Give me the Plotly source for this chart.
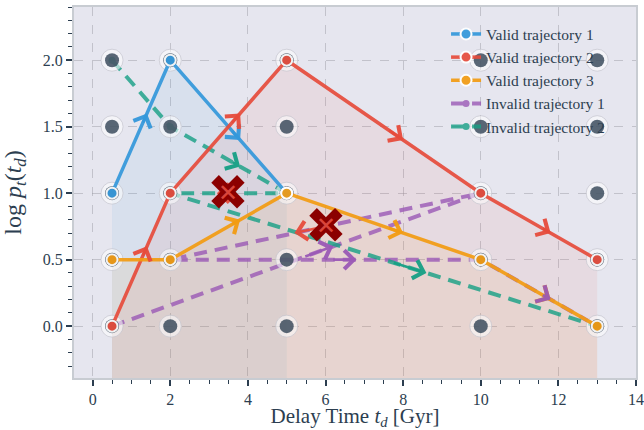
import itertools
import plotly.graph_objects as go

# ---------------- data ----------------
grid_x = [0.5, 2, 5, 10, 13]
grid_y = [0.0, 0.5, 1.0, 1.5, 2.0]

valid1_x = [0.5, 2, 5]
valid1_y = [1.0, 2.0, 1.0]
valid2_x = [0.5, 2, 5, 10, 13]
valid2_y = [0.0, 1.0, 2.0, 1.0, 0.5]
valid3_x = [0.5, 2, 5, 10, 13]
valid3_y = [0.5, 0.5, 1.0, 0.5, 0.0]
invalid1_x = [0.5, 10, 2, 10, 13]
invalid1_y = [0.0, 1.0, 0.5, 0.5, 0.0]
invalid2_x = [0.5, 2, 5, 2, 13]
invalid2_y = [2.0, 1.5, 1.0, 1.0, 0.0]

violation_x = [3.5, 6.0]
violation_y = [1.0, 0.75]

x_ticks = [0, 2, 4, 6, 8, 10, 12, 14]
y_ticks = [0.0, 0.5, 1.0, 1.5, 2.0]

# ---------------- style ----------------
X_RANGE = [-0.48, 14.0]
Y_RANGE = [-0.39, 2.4]
FONT = "Liberation Serif, Times New Roman, DejaVu Serif, serif"
TXT = "#2c3e50"
BLUE, RED, ORANGE, PURPLE, TEAL = "#3498db", "#e74c3c", "#f39c12", "#9b59b6", "#16a085"
ARROW_T = 0.6

fig = go.Figure()

valid = [
    ("Valid trajectory 1", valid1_x, valid1_y, BLUE),
    ("Valid trajectory 2", valid2_x, valid2_y, RED),
    ("Valid trajectory 3", valid3_x, valid3_y, ORANGE),
]
invalid = [
    ("Invalid trajectory 1", invalid1_x, invalid1_y, PURPLE),
    ("Invalid trajectory 2", invalid2_x, invalid2_y, TEAL),
]


def rgba(hex_color, a):
    h = hex_color.lstrip("#")
    r, g, b = int(h[0:2], 16), int(h[2:4], 16), int(h[4:6], 16)
    return f"rgba({r},{g},{b},{a})"


# shaded areas under the valid trajectories
for name, xs, ys, col in valid:
    fig.add_trace(go.Scatter(
        x=[xs[0]] + xs + [xs[-1]], y=[Y_RANGE[0]] + ys + [Y_RANGE[0]],
        fill="toself", fillcolor=rgba(col, 0.08), mode="none",
        showlegend=False, hoverinfo="skip"))

# invalid trajectories (dashed)
for i, (name, xs, ys, col) in enumerate(invalid):
    fig.add_trace(go.Scatter(
        x=xs, y=ys, mode="lines+markers", name=name, opacity=0.8,
        line=dict(color=col, width=4, dash="13px,8px"),
        marker=dict(size=7, color=col),
        legendrank=4 + i))

# halo + grid nodes
gx, gy = zip(*itertools.product(grid_x, grid_y))
fig.add_trace(go.Scatter(
    x=gx, y=gy, mode="markers", showlegend=False, hoverinfo="skip",
    marker=dict(size=22, color="rgba(255,255,255,0.55)",
                line=dict(color="rgba(190,190,200,0.6)", width=1))))
fig.add_trace(go.Scatter(
    x=gx, y=gy, mode="markers", showlegend=False, hoverinfo="skip",
    marker=dict(size=14, color="rgba(44,62,80,0.78)")))

# valid trajectories (solid)
for i, (name, xs, ys, col) in enumerate(valid):
    fig.add_trace(go.Scatter(
        x=xs, y=ys, mode="lines+markers", name=name, opacity=0.92,
        line=dict(color=col, width=3.5),
        marker=dict(size=11, color=col, line=dict(color="white", width=2)),
        legendrank=1 + i))

# direction arrows on each segment
for name, xs, ys, col in valid + invalid:
    for x0, y0, x1, y1 in zip(xs[:-1], ys[:-1], xs[1:], ys[1:]):
        acol = col if x1 >= x0 else RED
        hx, hy = x0 + ARROW_T * (x1 - x0), y0 + ARROW_T * (y1 - y0)
        tx, ty = x0 + 0.52 * (x1 - x0), y0 + 0.52 * (y1 - y0)
        fig.add_annotation(x=hx, y=hy, ax=tx, ay=ty, xref="x", yref="y",
                           axref="x", ayref="y", text="", showarrow=True,
                           arrowhead=4, arrowsize=1.4, arrowwidth=2.6,
                           arrowcolor=acol, opacity=0.95)

# violation markers (drawn last so they cover the arrows)
for vx, vy in zip(violation_x, violation_y):
    fig.add_annotation(x=vx, y=vy, xref="x", yref="y", text="✖", showarrow=False,
                       font=dict(family="DejaVu Sans", size=50, color="#8b0000"))
    fig.add_annotation(x=vx, y=vy, xref="x", yref="y", text="✕", showarrow=False,
                       font=dict(family="DejaVu Sans", size=24, color="#d9453a"))

axis_common = dict(
    showline=True, mirror=True, linecolor="#c8ccd2", linewidth=2,
    ticks="outside", ticklen=6, tickwidth=2, tickcolor=TXT, automargin=False,
    showgrid=True, gridcolor="rgba(150,150,160,0.45)", griddash="dash", gridwidth=1,
    zeroline=False, tickfont=dict(family=FONT, size=16, color=TXT),
)

fig.update_layout(
    width=644, height=430,
    margin=dict(l=74, r=8, t=7, b=52),
    paper_bgcolor="white", plot_bgcolor="#e6e6ef",
    font=dict(family=FONT, color=TXT),
    xaxis=dict(range=X_RANGE, tickvals=x_ticks,
               minor=dict(dtick=0.5, ticklen=4, tickwidth=1, tickcolor=TXT, showgrid=False),
               title=dict(text="Delay Time <i>t</i><sub><i>d</i></sub> [Gyr]",
                          font=dict(family=FONT, size=21, color=TXT)),
               **axis_common),
    yaxis=dict(range=Y_RANGE, tickvals=y_ticks, tickformat=".1f",
               minor=dict(dtick=0.1, ticklen=4, tickwidth=1, tickcolor=TXT, showgrid=False),
               title=dict(text="log&nbsp;<i>p</i><sub><i>t</i></sub>(<i>t</i><sub><i>d</i></sub>)",
                          font=dict(family=FONT, size=24, color=TXT)),
               **axis_common),
    legend=dict(x=0.662, y=0.972, xanchor="left", yanchor="top",
                bgcolor="rgba(0,0,0,0)", font=dict(family=FONT, size=15.5, color=TXT),
                tracegroupgap=0),
    showlegend=True,
)

fig.write_html("out.html", config={"displayModeBar": False},
               post_script="document.body.style.margin='0px';")
